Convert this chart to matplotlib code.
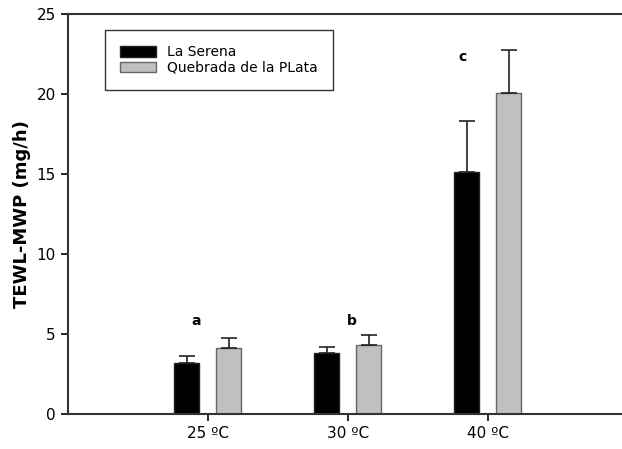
import matplotlib.pyplot as plt
import numpy as np

temps = ["25 ºC", "30 ºC", "40 ºC"]
serena = [3.19, 3.83, 15.1]
serena_err = [0.45, 0.37, 3.19]
plata = [4.1, 4.29, 20.08]
plata_err = [0.67, 0.63, 2.67]
letters = ["a", "b", "c"]
letter_x = [0.92, 2.03, 2.82]
letter_y = [5.35, 5.4, 21.9]

x = np.arange(1, len(temps) + 1)
w = 0.18

fig = plt.figure(figsize=(6.22, 4.49), dpi=100)
ax = fig.add_axes([0.109, 0.078, 0.891, 0.891])

ax.bar(x - 0.15, serena, w, color="black", edgecolor="#222222", linewidth=1,
       yerr=[np.zeros(3), serena_err], error_kw=dict(ecolor="#222222", elinewidth=1.2, capsize=6, capthick=1.2),
       label="La Serena")
ax.bar(x + 0.15, plata, w, color="#c0c0c0", edgecolor="#666666", linewidth=1,
       yerr=[np.zeros(3), plata_err], error_kw=dict(ecolor="#222222", elinewidth=1.2, capsize=6, capthick=1.2),
       label="Quebrada de la PLata")

for lx, ly, t in zip(letter_x, letter_y, letters):
    ax.text(lx, ly, t, fontsize=10, fontweight="bold", ha="center", va="bottom")

ax.set_xlim(0, 3.96)
ax.set_ylim(0, 25)
ax.set_xticks(x)
ax.set_xticklabels(temps, fontsize=11)
ax.set_yticks([0, 5, 10, 15, 20, 25])
ax.tick_params(axis="y", labelsize=11, length=5, width=1.2, direction="out")
ax.tick_params(axis="x", length=5, width=1.2, direction="out")
ax.set_ylabel("TEWL-MWP (mg/h)", fontsize=13, fontweight="bold")
ax.spines["right"].set_visible(False)
for s in ["left", "bottom", "top"]:
    ax.spines[s].set_linewidth(1.5)
    ax.spines[s].set_color("#333333")

leg = ax.legend(loc="upper left", bbox_to_anchor=(0.054, 0.977), fontsize=10, fancybox=False,
                edgecolor="black", handlelength=2.6, handleheight=0.8, borderpad=1.1, labelspacing=0.1)
leg.get_frame().set_linewidth(1)

plt.savefig("out.png")
